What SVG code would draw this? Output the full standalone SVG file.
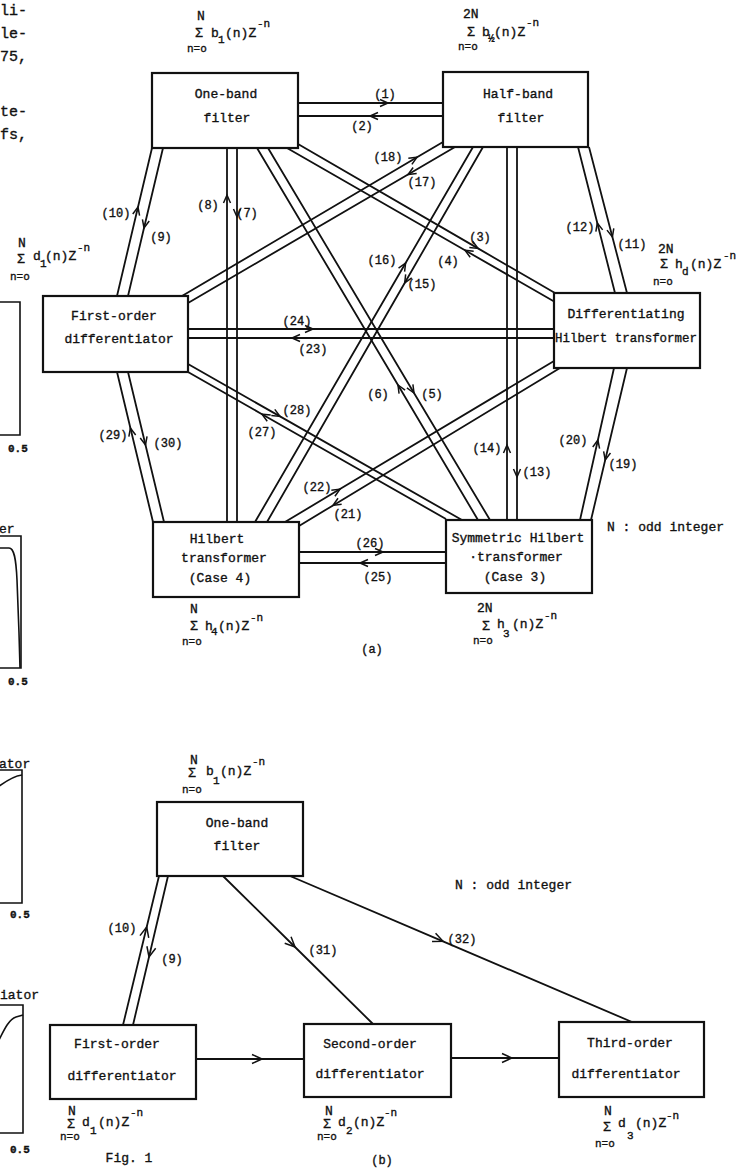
<svg xmlns="http://www.w3.org/2000/svg" width="745" height="1170" viewBox="0 0 745 1170">
<style>
.bg{fill:#fff}
.box{fill:#fff;stroke:#111;stroke-width:2.2}
.ln{fill:none;stroke:#111;stroke-width:1.8;marker-mid:url(#ah)}
.lnb{fill:none;stroke:#111;stroke-width:1.8;marker-mid:url(#ahb)}
.frame{fill:none;stroke:#111;stroke-width:1.6}
text{font-family:"Liberation Mono","DejaVu Sans Mono",monospace;fill:#111;stroke:#111;stroke-width:0.35}
.t{font-size:13px;text-anchor:middle}
.lb{font-size:12px;text-anchor:middle}
.f{font-size:13px}
.fs{font-size:11px}
.body{font-size:15px}
.ax{font-size:11px;font-weight:bold}
</style>
<defs>
<marker id="ah" markerUnits="userSpaceOnUse" viewBox="-12 -12 24 24" markerWidth="24" markerHeight="24" refX="0" refY="0" orient="auto" overflow="visible">
<path d="M-8,-3.5 L0,0 L-8,3.5" fill="none" stroke="#111" stroke-width="1.5"/>
</marker>
<marker id="ahb" markerUnits="userSpaceOnUse" viewBox="-12 -12 24 24" markerWidth="24" markerHeight="24" refX="0" refY="0" orient="auto" overflow="visible">
<path d="M-10,-4.5 L0,0 L-10,4.5" fill="none" stroke="#111" stroke-width="1.5"/>
</marker>
</defs>
<rect class="bg" x="0" y="0" width="745" height="1170"/>

<!-- left margin fragments -->
<g id="fragments">
<text class="body" x="0" y="15">li-</text>
<text class="body" x="0" y="38">le-</text>
<text class="body" x="0" y="61">75,</text>
<text class="body" x="0" y="116">te-</text>
<text class="body" x="0" y="139">fs,</text>
<path class="frame" d="M-5,302 H20 V435 H-5"/>
<text class="ax" x="8" y="452">0.5</text>
<text class="f" x="-1" y="533">er</text>
<path class="frame" d="M-5,536 H21 V668 H-5"/>
<path class="frame" d="M-2,548 L9,548 C14,548 16,558 17,580 L19,633 L20,668"/>
<text class="ax" x="8" y="685">0.5</text>
<text class="f" x="-1" y="768">ator</text>
<path class="frame" d="M-5,770 H22 V903 H-5"/>
<path class="frame" d="M-2,787 C6,781 14,776 22,775"/>
<text class="ax" x="10" y="918">0.5</text>
<text class="f" x="0" y="999">iator</text>
<path class="frame" d="M-5,1005 H23 V1133 H-5"/>
<path class="frame" d="M-2,1042 C4,1030 9,1019 16,1017 L23,1015"/>
<text class="ax" x="10" y="1153">0.5</text>
<g transform="translate(17,263)">
<text class="f" x="1" y="-16">N</text>
<text class="f" x="0" y="0">Σ</text>
<text class="f" x="16" y="-3">d</text>
<text class="fs" x="23" y="4">1</text>
<text class="f" x="28" y="-3">(n)Z</text>
<text class="fs" x="60" y="-12">-n</text>
<text class="fs" x="-7" y="17">n=o</text>
</g>
</g>

<!-- connectors (a) -->
<g id="connectors-a">
<polyline class="ln" points="298,103 388,103 443,103"/>
<polyline class="ln" points="443,116 370,116 298,116"/>
<polyline class="ln" points="298,144 478,248.4 555,293"/>
<polyline class="ln" points="555,302 465,250.3 287,148"/>
<polyline class="ln" points="268,148 414,393 490,520"/>
<polyline class="ln" points="478,520 398,385 257,148"/>
<polyline class="ln" points="237,148 237,217 237,522"/>
<polyline class="ln" points="227,522 227,195 227,148"/>
<polyline class="ln" points="163,148 144,228 128,296"/>
<polyline class="ln" points="117,296 138,207 152,148"/>
<polyline class="ln" points="589,147 612.4,237 627,293"/>
<polyline class="ln" points="615,293 597.3,223 578,147"/>
<polyline class="ln" points="517,147 517,477 517,520"/>
<polyline class="ln" points="507,520 507,445 507,147"/>
<polyline class="ln" points="483,147 404.7,283 267,522"/>
<polyline class="ln" points="255,522 405.6,263 473,147"/>
<polyline class="ln" points="455,147 408,174.5 188,303"/>
<polyline class="ln" points="182,296 417,157.3 443,142"/>
<polyline class="ln" points="627,368 605.2,460 591,520"/>
<polyline class="ln" points="580,520 597.9,440 614,368"/>
<polyline class="ln" points="560,368 333,505.4 299,526"/>
<polyline class="ln" points="285,522 340,489.1 554,361"/>
<polyline class="ln" points="554,338 292,338 188,338"/>
<polyline class="ln" points="188,329 313,329 554,329"/>
<polyline class="ln" points="446,563 360,563 299,563"/>
<polyline class="ln" points="299,552 383,552 446,552"/>
<polyline class="ln" points="446,519 262,414.2 188,372"/>
<polyline class="ln" points="188,364 280,416.4 462,520"/>
<polyline class="ln" points="153,522 130.4,428 117,372"/>
<polyline class="ln" points="128,372 145.5,445 164,522"/>
</g>
<g id="labels-a">
<text class="lb" x="385" y="98">(1)</text>
<text class="lb" x="362" y="130">(2)</text>
<text class="lb" x="480" y="241">(3)</text>
<text class="lb" x="448" y="265">(4)</text>
<text class="lb" x="432" y="398">(5)</text>
<text class="lb" x="378" y="398">(6)</text>
<text class="lb" x="247" y="217">(7)</text>
<text class="lb" x="208" y="209">(8)</text>
<text class="lb" x="161" y="241">(9)</text>
<text class="lb" x="116" y="217">(10)</text>
<text class="lb" x="632" y="248">(11)</text>
<text class="lb" x="580" y="231">(12)</text>
<text class="lb" x="537" y="476">(13)</text>
<text class="lb" x="487" y="452">(14)</text>
<text class="lb" x="422" y="288">(15)</text>
<text class="lb" x="382" y="264">(16)</text>
<text class="lb" x="422" y="186">(17)</text>
<text class="lb" x="388" y="161">(18)</text>
<text class="lb" x="623" y="468">(19)</text>
<text class="lb" x="573" y="444">(20)</text>
<text class="lb" x="348" y="518">(21)</text>
<text class="lb" x="317" y="491">(22)</text>
<text class="lb" x="313" y="353">(23)</text>
<text class="lb" x="297" y="325">(24)</text>
<text class="lb" x="378" y="581">(25)</text>
<text class="lb" x="370" y="547">(26)</text>
<text class="lb" x="262" y="436">(27)</text>
<text class="lb" x="297" y="414">(28)</text>
<text class="lb" x="113" y="439">(29)</text>
<text class="lb" x="168" y="447">(30)</text>
</g>

<!-- nodes (a) -->
<g id="a-one-band">
<rect class="box" x="152" y="73" width="146" height="75"/>
<text class="t" x="226" y="98">One-band</text>
<text class="t" x="227" y="122">filter</text>
<g transform="translate(195,37)">
<text class="f" x="2" y="-17">N</text>
<text class="f" x="0" y="0">Σ</text>
<text class="f" x="16" y="0">b</text>
<text class="fs" x="23" y="6">1</text>
<text class="f" x="30" y="0">(n)Z</text>
<text class="fs" x="62" y="-10">-n</text>
<text class="fs" x="-8" y="15">n=o</text>
</g>
</g>
<g id="a-half-band">
<rect class="box" x="443" y="72" width="145" height="75"/>
<text class="t" x="518" y="98">Half-band</text>
<text class="t" x="521" y="122">filter</text>
<g transform="translate(467,36)">
<text class="f" x="-4" y="-18">2N</text>
<text class="f" x="0" y="0">Σ</text>
<text class="f" x="15" y="0">b</text>
<text class="fs" x="21" y="6">½</text>
<text class="f" x="27" y="0">(n)Z</text>
<text class="fs" x="59" y="-10">-n</text>
<text class="fs" x="-9" y="14">n=o</text>
</g>
</g>
<g id="a-first-order">
<rect class="box" x="43" y="296" width="145" height="76"/>
<text class="t" x="114" y="320">First-order</text>
<text class="t" x="119" y="343">differentiator</text>
</g>
<g id="a-diff-hilbert">
<rect class="box" x="554" y="293" width="146" height="75"/>
<text class="t" x="626" y="318">Differentiating</text>
<text class="t" x="626" y="342" textLength="142" lengthAdjust="spacingAndGlyphs">Hilbert transformer</text>
<g transform="translate(660,268)">
<text class="f" x="-2" y="-15">2N</text>
<text class="f" x="0" y="0">Σ</text>
<text class="f" x="15" y="0">h</text>
<text class="fs" x="22" y="7">d</text>
<text class="f" x="30" y="0">(n)Z</text>
<text class="fs" x="63" y="-9">-n</text>
<text class="fs" x="-7" y="17">n=o</text>
</g>
</g>
<g id="a-hilbert-case4">
<rect class="box" x="153" y="522" width="146" height="75"/>
<text class="t" x="217" y="543">Hilbert</text>
<text class="t" x="224" y="562">transformer</text>
<text class="t" x="220" y="582">(Case 4)</text>
<g transform="translate(190,630)">
<text class="f" x="0" y="-17">N</text>
<text class="f" x="0" y="0">Σ</text>
<text class="f" x="15" y="0">h</text>
<text class="fs" x="21" y="5">4</text>
<text class="f" x="28" y="0">(n)Z</text>
<text class="fs" x="60" y="-9">-n</text>
<text class="fs" x="-8" y="15">n=o</text>
</g>
</g>
<g id="a-sym-hilbert-case3">
<rect class="box" x="446" y="520" width="146" height="73"/>
<text class="t" x="518" y="542">Symmetric Hilbert</text>
<text class="t" x="516" y="561">·transformer</text>
<text class="t" x="515" y="581">(Case 3)</text>
<g transform="translate(482,630)">
<text class="f" x="-5" y="-18">2N</text>
<text class="f" x="0" y="0">Σ</text>
<text class="f" x="15" y="-2">h</text>
<text class="fs" x="21" y="7">3</text>
<text class="f" x="30" y="-2">(n)Z</text>
<text class="fs" x="62" y="-11">-n</text>
<text class="fs" x="-9" y="14">n=o</text>
</g>
</g>
<text class="f" x="607" y="531">N : odd integer</text>
<text class="lb" x="372" y="653">(a)</text>

<!-- connectors (b) -->
<g id="connectors-b">
<polyline class="lnb" points="123,1025 146.7,927 159,876"/>
<polyline class="lnb" points="168,876 149,957 133,1025"/>
<polyline class="lnb" points="223,876 295,947 373,1024"/>
<polyline class="lnb" points="290,876 443,941.3 632,1022"/>
<polyline class="lnb" points="196,1059 262,1059 304,1059"/>
<polyline class="lnb" points="451,1058 512,1058 559,1058"/>
</g>
<g id="labels-b">
<text class="lb" x="122" y="932">(10)</text>
<text class="lb" x="172" y="963">(9)</text>
<text class="lb" x="323" y="954">(31)</text>
<text class="lb" x="462" y="943">(32)</text>
</g>

<!-- nodes (b) -->
<g id="b-one-band">
<rect class="box" x="157" y="802" width="146" height="74"/>
<text class="t" x="237" y="827">One-band</text>
<text class="t" x="237" y="850">filter</text>
<g transform="translate(188,777)">
<text class="f" x="2" y="-13">N</text>
<text class="f" x="0" y="0">Σ</text>
<text class="f" x="18" y="-2">b</text>
<text class="fs" x="25" y="7">1</text>
<text class="f" x="32" y="-2">(n)Z</text>
<text class="fs" x="64" y="-12">-n</text>
<text class="fs" x="-6" y="16">n=o</text>
</g>
</g>
<g id="b-first-order">
<rect class="box" x="50" y="1025" width="146" height="74"/>
<text class="t" x="117" y="1048">First-order</text>
<text class="t" x="122" y="1080">differentiator</text>
<g transform="translate(67,1128)">
<text class="f" x="1" y="-13">N</text>
<text class="f" x="0" y="0">Σ</text>
<text class="f" x="15" y="-2">d</text>
<text class="fs" x="23" y="6">1</text>
<text class="f" x="31" y="-2">(n)Z</text>
<text class="fs" x="63" y="-12">-n</text>
<text class="fs" x="-7" y="12">n=o</text>
</g>
<text class="t" x="129" y="1162">Fig. 1</text>
</g>
<g id="b-second-order">
<rect class="box" x="304" y="1024" width="147" height="73"/>
<text class="t" x="370" y="1048">Second-order</text>
<text class="t" x="370" y="1078">differentiator</text>
<g transform="translate(323,1128)">
<text class="f" x="2" y="-13">N</text>
<text class="f" x="0" y="0">Σ</text>
<text class="f" x="15" y="-2">d</text>
<text class="fs" x="23" y="6">2</text>
<text class="f" x="30" y="-2">(n)Z</text>
<text class="fs" x="61" y="-12">-n</text>
<text class="fs" x="-6" y="12">n=o</text>
</g>
<text class="lb" x="382" y="1164">(b)</text>
</g>
<g id="b-third-order">
<rect class="box" x="559" y="1022" width="145" height="75"/>
<text class="t" x="630" y="1047">Third-order</text>
<text class="t" x="626" y="1078">differentiator</text>
<g transform="translate(603,1131)">
<text class="f" x="1" y="-16">N</text>
<text class="f" x="0" y="0">Σ</text>
<text class="f" x="15" y="-4">d</text>
<text class="fs" x="24" y="8">3</text>
<text class="f" x="32" y="-4">(n)Z</text>
<text class="fs" x="63" y="-12">-n</text>
<text class="fs" x="-8" y="16">n=o</text>
</g>
</g>
<text class="f" x="455" y="889">N : odd integer</text>
</svg>
